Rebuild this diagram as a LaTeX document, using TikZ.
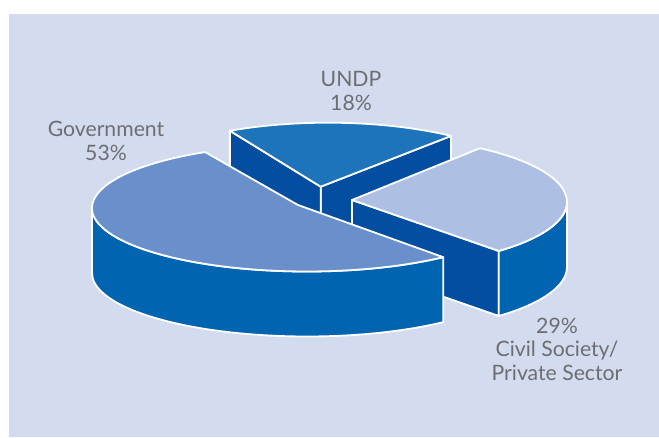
\documentclass[tikz,border=0pt]{standalone}
\usepackage{fontspec}
\setmainfont{Lato}
\definecolor{bgblue}{HTML}{D3DCEF}
\definecolor{govtop}{HTML}{6A90CB}
\definecolor{undptop}{HTML}{1E74BA}
\definecolor{civiltop}{HTML}{ADC0E3}
\definecolor{darkside}{HTML}{044EA1}
\definecolor{outerside}{HTML}{0064B1}
\definecolor{labelgray}{HTML}{6D6E71}
\begin{document}
\begin{tikzpicture}[x=1pt, y=1pt,
  slice/.style={draw=white, line width=1.8pt, line join=round},
  lbl/.style={text=labelgray, font=\fontsize{21.2}{23.5}\selectfont, align=center, anchor=north, inner sep=0pt}]
  \useasboundingbox (0,0) rectangle (659,437);
  \fill[bgblue] (9,0) rectangle (659,423);
  % centres and apexes of the slices
  \coordinate (uc) at (328,248.3);
  \coordinate (ua) at (320.7,250.3);
  \coordinate (ur) at ([shift={(uc)}]53.1:205 and 66);
  \coordinate (ul) at ([shift={(uc)}]118.6:205 and 66);
  \coordinate (cc) at (360,235);
  \coordinate (ca) at (352,237);
  \coordinate (cl) at ([shift={(cc)}]-47.9:207 and 66);
  \coordinate (gc) at (307,229);
  \coordinate (ga) at (298,232);
  % UNDP slice
  \draw[slice, fill=darkside] (ua) -- (ur) -- ++(0,-65) -- ([yshift=-65pt]ua) -- cycle;
  \draw[slice, fill=darkside] (ua) -- (ul) -- ++(0,-65) -- ([yshift=-65pt]ua) -- cycle;
  \draw[slice, fill=undptop] (ua) -- (ur) arc[start angle=53.1, end angle=118.6, x radius=205, y radius=66] -- cycle;
  % Civil society slice
  \draw[slice, fill=darkside] (ca) -- (cl) -- ++(0,-65) -- ([yshift=-65pt]ca) -- cycle;
  \draw[slice, fill=outerside] (cl) arc[start angle=-47.9, end angle=0, x radius=207, y radius=66]
    -- ++(0,-65) arc[start angle=0, end angle=-47.9, x radius=207, y radius=66] -- cycle;
  \draw[slice, fill=civiltop] (ca) -- (cl) arc[start angle=-47.9, end angle=54.6, x radius=207, y radius=66] -- cycle;
  % Government slice
  \draw[slice, fill=outerside] ([shift={(gc)}]180:215 and 63.5) arc[start angle=180, end angle=309.3, x radius=215, y radius=63.5]
    -- ++(0,-65) arc[start angle=309.3, end angle=180, x radius=215, y radius=63.5] -- cycle;
  \draw[slice, fill=govtop] (ga) -- ([shift={(gc)}]118.3:215 and 63.5) arc[start angle=118.3, end angle=309.3, x radius=215, y radius=63.5] -- cycle;
  % labels
  \node[lbl] (govlbl) at (106,315.8) {Government\\53\%};
  \node[lbl] (undplbl) at (351,365.8) {UNDP\\18\%};
  \node[lbl] (civillbl) at (557,119.5) {29\%\\Civil Society/\\Private Sector};
\end{tikzpicture}
\end{document}
